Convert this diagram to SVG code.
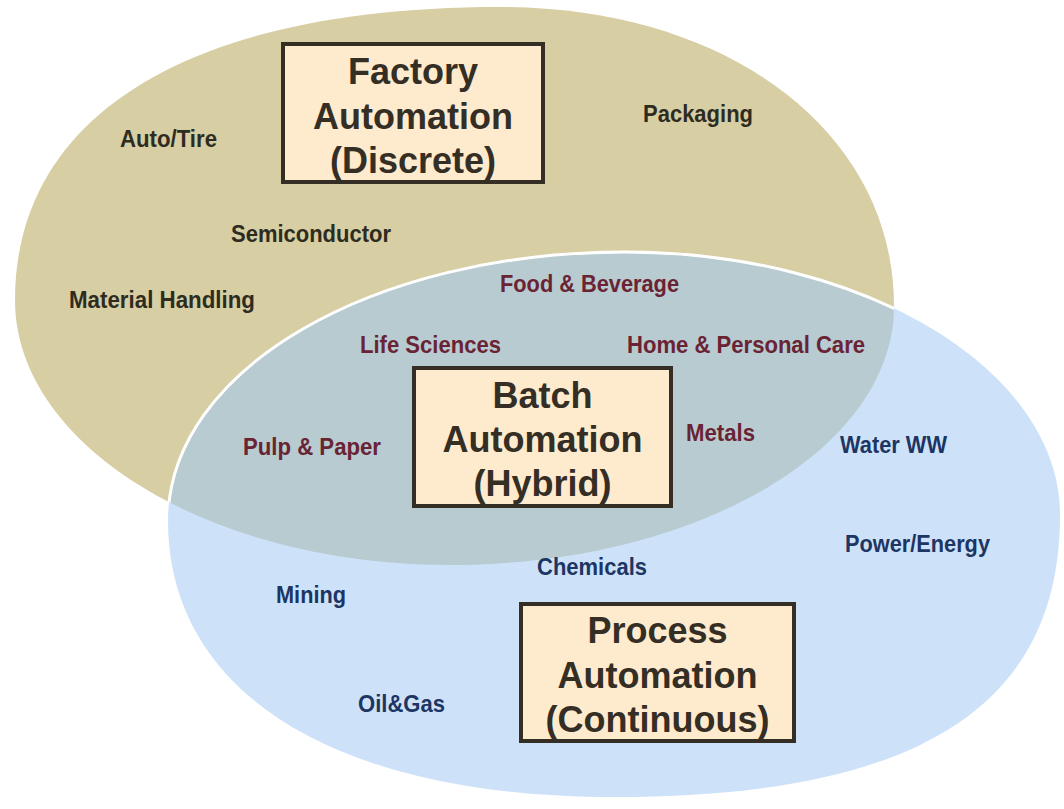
<svg xmlns="http://www.w3.org/2000/svg" width="1064" height="809" viewBox="0 0 1064 809">
  <style>
    .box rect { fill: #feeacd; stroke: #342e24; stroke-width: 4; }
    .box text { font-family: "Liberation Sans", Arial, sans-serif; font-weight: bold; font-size: 36px; fill: #342e24; text-anchor: middle; }
    .lbl { font-family: "Liberation Sans", Arial, sans-serif; font-weight: bold; font-size: 24px; }
    .fa { fill: #2e2c1f; }
    .ba { fill: #6a2333; }
    .pa { fill: #1d3563; }
  </style>
  <defs>
    <path id="tanShape" d="M15,300 C15,115 190,7 500,7 C730,7 894,133 894,306 C894,449 697,565 450,565 C210,565 15,446 15,300 Z"/>
    <path id="blueShape" d="M168,521 C168,369 373,252 625,252 C865,252 1060,370 1060,515 C1060,707 917,797 614,797 C330,797 168,690 168,521 Z"/>
    <clipPath id="clipBlue"><use href="#blueShape"/></clipPath>
    <clipPath id="clipTan"><use href="#tanShape"/></clipPath>
  </defs>
  <rect width="1064" height="809" fill="#ffffff"/>

  <g id="regions">
    <use id="factory-region" href="#tanShape" fill="#d7cea4"/>
    <use id="process-region" href="#blueShape" fill="#cde2f9"/>
    <use id="batch-region" href="#tanShape" fill="#b7cbd1" clip-path="url(#clipBlue)"/>
    <g clip-path="url(#clipTan)">
      <use href="#blueShape" fill="none" stroke="#ffffff" stroke-width="3"/>
    </g>
  </g>

  <g id="factory-labels">
    <text class="lbl fa" x="120" y="147" textLength="97" lengthAdjust="spacingAndGlyphs">Auto/Tire</text>
    <text class="lbl fa" x="643" y="122" textLength="110" lengthAdjust="spacingAndGlyphs">Packaging</text>
    <text class="lbl fa" x="231" y="242" textLength="160" lengthAdjust="spacingAndGlyphs">Semiconductor</text>
    <text class="lbl fa" x="69" y="308" textLength="186" lengthAdjust="spacingAndGlyphs">Material Handling</text>
  </g>

  <g id="batch-labels">
    <text class="lbl ba" x="500" y="292" textLength="179" lengthAdjust="spacingAndGlyphs">Food &amp; Beverage</text>
    <text class="lbl ba" x="360" y="353" textLength="141" lengthAdjust="spacingAndGlyphs">Life Sciences</text>
    <text class="lbl ba" x="627" y="353" textLength="238" lengthAdjust="spacingAndGlyphs">Home &amp; Personal Care</text>
    <text class="lbl ba" x="243" y="455" textLength="138" lengthAdjust="spacingAndGlyphs">Pulp &amp; Paper</text>
    <text class="lbl ba" x="686" y="441" textLength="69" lengthAdjust="spacingAndGlyphs">Metals</text>
  </g>

  <g id="process-labels">
    <text class="lbl pa" x="840" y="453" textLength="107" lengthAdjust="spacingAndGlyphs">Water WW</text>
    <text class="lbl pa" x="845" y="552" textLength="145" lengthAdjust="spacingAndGlyphs">Power/Energy</text>
    <text class="lbl pa" x="537" y="575" textLength="110" lengthAdjust="spacingAndGlyphs">Chemicals</text>
    <text class="lbl pa" x="276" y="603" textLength="70" lengthAdjust="spacingAndGlyphs">Mining</text>
    <text class="lbl pa" x="358" y="712" textLength="87" lengthAdjust="spacingAndGlyphs">Oil&amp;Gas</text>
  </g>

  <g id="factory-box" class="box">
    <rect x="283" y="44" width="260" height="138"/>
    <text x="413" y="84">Factory</text>
    <text x="413" y="128.5">Automation</text>
    <text x="413" y="173">(Discrete)</text>
  </g>

  <g id="batch-box" class="box">
    <rect x="414" y="368" width="257" height="138"/>
    <text x="542.5" y="408">Batch</text>
    <text x="542.5" y="452">Automation</text>
    <text x="542.5" y="496">(Hybrid)</text>
  </g>

  <g id="process-box" class="box">
    <rect x="521" y="604" width="273" height="137"/>
    <text x="657.5" y="643">Process</text>
    <text x="657.5" y="687.5">Automation</text>
    <text x="657.5" y="732">(Continuous)</text>
  </g>
</svg>
